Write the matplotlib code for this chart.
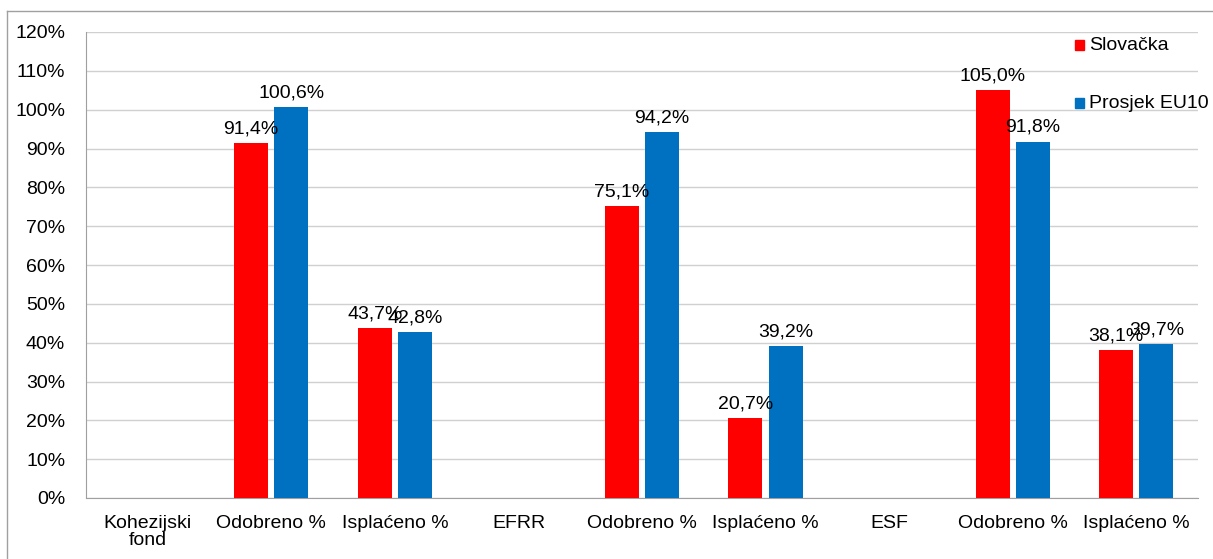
import numpy as np
import matplotlib.pyplot as plt
from matplotlib.patches import Rectangle

plt.rcParams['font.family'] = ['Liberation Sans', 'DejaVu Sans']

categories = ['Kohezijski\nfond', 'Odobreno %', 'Isplaćeno %', 'EFRR', 'Odobreno %',
              'Isplaćeno %', 'ESF', 'Odobreno %', 'Isplaćeno %']
slovacka = [np.nan, 91.4, 43.7, np.nan, 75.1, 20.7, np.nan, 105.0, 38.1]
eu10 = [np.nan, 100.6, 42.8, np.nan, 94.2, 39.2, np.nan, 91.8, 39.7]
series_names = ['Slovačka', 'Prosjek EU10']
colors = ['#ff0000', '#0070c0']

fig = plt.figure(figsize=(12.13, 5.59), dpi=100)
ax = fig.add_axes([86 / 1213, 61 / 559, 1112 / 1213, 466 / 559])

x = np.arange(len(categories))
w = 0.275
off = 0.163
for vals, dx, c, name in zip([slovacka, eu10], [-off, off], colors, series_names):
    bars = ax.bar(x + dx, vals, w, color=c, label=name, zorder=3)
    for xi, v in zip(x, vals):
        if not np.isnan(v):
            ax.annotate(f'{v:.1f}%'.replace('.', ','), (xi + dx, v), xytext=(0, 4),
                        textcoords='offset points', ha='center', va='bottom',
                        fontsize=14, zorder=4)

ax.set_xlim(-0.5, len(categories) - 0.5)
ax.set_ylim(0, 120)
ax.set_yticks(np.arange(0, 121, 10))
ax.set_yticklabels([f'{t}%' for t in range(0, 121, 10)], fontsize=14)
ax.set_xticks(x)
ax.set_xticklabels(categories, fontsize=14, linespacing=1.0)
ax.tick_params(axis='x', length=0, pad=12)
ax.tick_params(axis='y', length=0, pad=15)
ax.grid(axis='y', color='#d0d0d0', linewidth=1, zorder=0)
for s in ['top', 'right']:
    ax.spines[s].set_visible(False)
for s in ['left', 'bottom']:
    ax.spines[s].set_color('#a0a0a0')

# legend inside the plot, right side
for i, (name, c) in enumerate(zip(series_names, colors)):
    yy = 1 - (45 + 58 * i) / 559
    fig.patches.append(Rectangle((1075 / 1213, yy - 5 / 559), 9 / 1213, 10 / 559,
                                 transform=fig.transFigure, color=c, zorder=5))
    fig.text(1089 / 1213, yy, name, fontsize=14, va='center', ha='left')

# outer chart frame
fig.add_artist(plt.Line2D([7 / 1213, 7 / 1213], [0, 1 - 11 / 559],
                          transform=fig.transFigure, color='#a0a0a0', linewidth=1))
fig.add_artist(plt.Line2D([7 / 1213, 1], [1 - 11 / 559, 1 - 11 / 559],
                          transform=fig.transFigure, color='#a0a0a0', linewidth=1))

fig.savefig('out.png', dpi=100)
